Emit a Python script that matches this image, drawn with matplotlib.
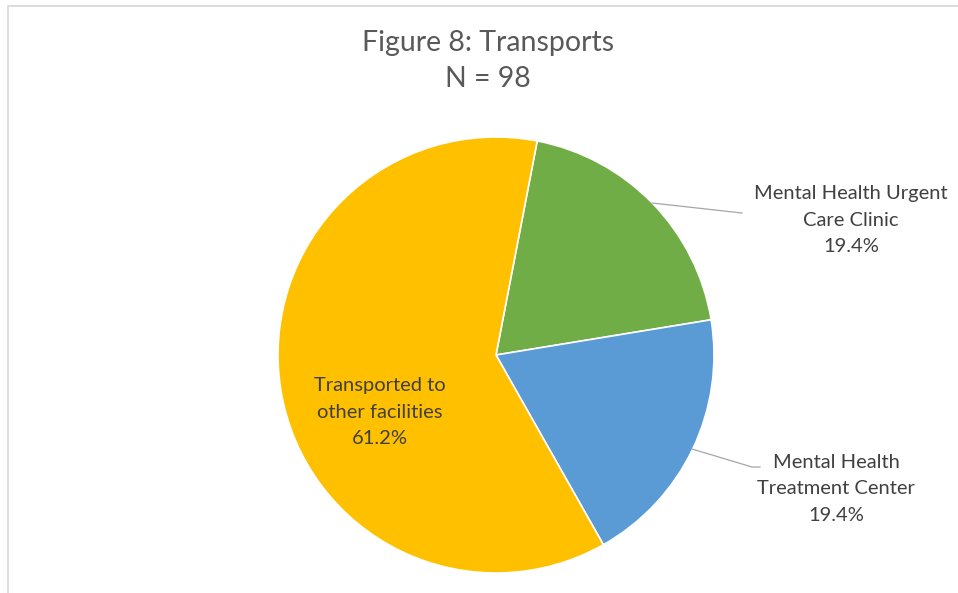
import matplotlib.pyplot as plt
import numpy as np

# data
labels = ['Mental Health Urgent\nCare Clinic', 'Mental Health\nTreatment Center', 'Transported to\nother facilities']
counts = [19, 19, 60]
colors = ['#70AD47', '#5B9BD5', '#FFC000']
title = 'Figure 8: Transports\nN = 98'

plt.rcParams['font.family'] = ['Lato', 'DejaVu Sans']

W, H = 958, 593
fig = plt.figure(figsize=(W / 100, H / 100), dpi=100)
ax = fig.add_axes([0, 0, 1, 1])
ax.set_xlim(0, W)
ax.set_ylim(0, H)
ax.set_aspect('equal')
ax.axis('off')

cx, cy, r = 496, H - 355, 218
start = 79.1
wedges, _ = ax.pie(counts, colors=colors, startangle=start, counterclock=False,
                   center=(cx, cy), radius=r, frame=True,
                   wedgeprops=dict(edgecolor='white', linewidth=1.2))
ax.set_xlim(0, W)
ax.set_ylim(0, H)
ax.axis('off')

pcts = [100 * c / sum(counts) for c in counts]
# label positions (image pixels) and leader line end points
label_pos = [(851, 220), (836, 489), (380, 412)]
leader_end = [[(742, 213)], [(752, 467), (760, 467)], None]

for w, lab, p, (lx, ly), le in zip(wedges, labels, pcts, label_pos, leader_end):
    ax.text(lx, H - ly, f'{lab}\n{p:.1f}%', ha='center', va='center',
            fontsize=14.5, color='#404040', linespacing=1.7)
    if le:
        mid = np.deg2rad((w.theta1 + w.theta2) / 2)
        xs = [cx + r * np.cos(mid)] + [x for x, _ in le]
        ys = [cy + r * np.sin(mid)] + [H - y for _, y in le]
        ax.plot(xs, ys, color='#A6A6A6', linewidth=0.9)

ax.text(488, H - 61, title, ha='center', va='center', fontsize=20.5,
        color='#595959', linespacing=1.52)

# chart border
ax.plot([8.5, 8.5, W], [0, H - 5.5, H - 5.5], color='#D9D9D9', linewidth=1.3,
        clip_on=False)

fig.savefig('out.png', dpi=100)
